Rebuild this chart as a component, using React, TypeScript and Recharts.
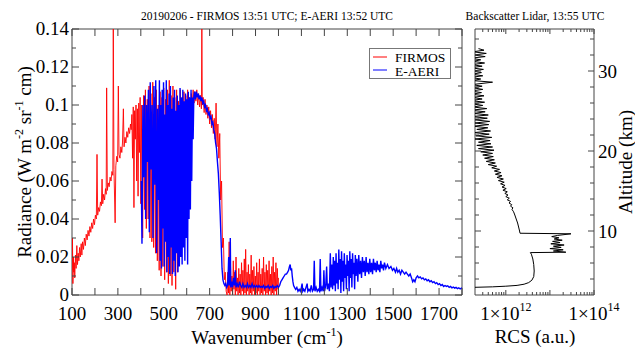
import React from "react";
import { LineChart, Line, XAxis, YAxis, ReferenceArea, ScatterChart, Scatter } from "recharts";

// FIRMOS spectrum, [wavenumber cm-1, radiance]
const firmosFar: [number, number][] = [
  [100, 0.013], [102, 0.03], [104, 0.006], [106, 0.02], [108, 0.012], [110, 0.017], [112, 0.009],
  [115, 0.021], [118, 0.014], [121, 0.026], [124, 0.016], [127, 0.022], [130, 0.018], [133, 0.025],
  [136, 0.02], [140, 0.027], [143, 0.021], [146, 0.028], [150, 0.024], [154, 0.03], [158, 0.026],
  [162, 0.032], [166, 0.029], [170, 0.034], [174, 0.031], [178, 0.036], [182, 0.033], [186, 0.038],
  [190, 0.035], [194, 0.04], [198, 0.037], [202, 0.042], [206, 0.04], [209, 0.074], [212, 0.042],
  [216, 0.046], [220, 0.044], [224, 0.049], [228, 0.047], [231, 0.061], [234, 0.048], [238, 0.053],
  [242, 0.05], [246, 0.056], [249, 0.053], [251, 0.109], [254, 0.055], [258, 0.059], [262, 0.057],
  [266, 0.062], [270, 0.06], [274, 0.065], [278, 0.063], [280, 0.14], [283, 0.066], [288, 0.038],
  [291, 0.068], [295, 0.073], [299, 0.07], [302, 0.11], [305, 0.074], [309, 0.072], [313, 0.078],
  [317, 0.075], [320, 0.08], [324, 0.098], [327, 0.078], [331, 0.083], [335, 0.08], [339, 0.086],
  [343, 0.083], [347, 0.088], [351, 0.085], [355, 0.09], [358, 0.087],
];
const firmosBand: [number, number][] = [
  [361, 0.095], [364, 0.072], [367, 0.099], [370, 0.046], [373, 0.097], [376, 0.082], [379, 0.1],
  [382, 0.06], [385, 0.098], [388, 0.052], [391, 0.101], [394, 0.075], [397, 0.104], [400, 0.048],
  [404, 0.1], [408, 0.03], [412, 0.105], [416, 0.045], [420, 0.108], [424, 0.035], [428, 0.103],
  [432, 0.04], [436, 0.11], [440, 0.03], [444, 0.106], [448, 0.028], [452, 0.112], [456, 0.025],
  [460, 0.104], [464, 0.022], [468, 0.108], [472, 0.018], [476, 0.1], [480, 0.013], [484, 0.107],
  [488, 0.01], [492, 0.104], [496, 0.015], [500, 0.109], [504, 0.008], [508, 0.103], [512, 0.012],
  [516, 0.108], [520, 0.006], [524, 0.113], [528, 0.01], [532, 0.105], [536, 0.005], [540, 0.11],
  [544, 0.012], [548, 0.104], [552, 0.003], [556, 0.108], [560, 0.012], [564, 0.102], [568, 0.018],
  [572, 0.108], [576, 0.02], [580, 0.104], [584, 0.03], [588, 0.107], [592, 0.04], [596, 0.105],
  [600, 0.05], [604, 0.108], [608, 0.06], [612, 0.104], [616, 0.075], [620, 0.106],
];
const firmosPeak: [number, number][] = [
  [624, 0.1], [628, 0.108], [632, 0.101], [636, 0.107], [640, 0.102], [644, 0.108], [648, 0.1],
  [652, 0.106], [656, 0.099], [660, 0.105], [664, 0.098], [666, 0.14], [668, 0.1], [672, 0.104],
  [676, 0.096], [680, 0.103], [684, 0.095], [688, 0.1], [692, 0.093], [696, 0.099], [700, 0.09],
  [704, 0.097], [708, 0.088], [712, 0.095], [716, 0.085], [720, 0.093], [724, 0.082], [728, 0.101],
  [732, 0.078], [736, 0.09], [740, 0.072], [744, 0.085], [748, 0.05], [752, 0.06], [756, 0.025],
  [760, 0.03], [764, 0.008], [768, 0.012], [772, 0.002],
];
const firmosWindow: [number, number][] = [
  [776, 0.0], [779, 0.012], [782, 0.001], [785, 0.028], [788, 0.0], [791, 0.015], [794, 0.002],
  [797, 0.01], [800, 0.0], [803, 0.018], [806, 0.003], [809, 0.012], [812, 0.0], [815, 0.02],
  [818, 0.002], [821, 0.009], [824, 0.0], [827, 0.014], [830, 0.001], [833, 0.011], [836, 0.0],
  [839, 0.017], [842, 0.002], [845, 0.013], [848, 0.0], [851, 0.019], [854, 0.001], [857, 0.024],
  [860, 0.0], [863, 0.012], [866, 0.002], [869, 0.016], [872, 0.0], [875, 0.011], [878, 0.001],
  [881, 0.021], [884, 0.0], [887, 0.013], [890, 0.002], [893, 0.015], [896, 0.0], [899, 0.01],
  [902, 0.001], [905, 0.017], [908, 0.0], [911, 0.012], [914, 0.002], [917, 0.019], [920, 0.0],
  [923, 0.011], [926, 0.001], [929, 0.014], [932, 0.0], [935, 0.02], [938, 0.002], [941, 0.012],
  [944, 0.0], [947, 0.016], [950, 0.001], [953, 0.013], [956, 0.0], [959, 0.018], [962, 0.002],
  [965, 0.011], [968, 0.0], [971, 0.015], [974, 0.001], [977, 0.02], [980, 0.0], [983, 0.012],
  [986, 0.002], [989, 0.017], [992, 0.0], [995, 0.014], [998, 0.003], [1000, 0.009],
];

// E-AERI spectrum, [wavenumber cm-1, radiance]
const aeriBand: [number, number][] = [
  [402, 0.06], [405, 0.027], [409, 0.1], [413, 0.062], [417, 0.105], [421, 0.04], [425, 0.1],
  [429, 0.07], [433, 0.108], [437, 0.033], [441, 0.112], [445, 0.066], [449, 0.1], [453, 0.03],
  [457, 0.11], [461, 0.058], [465, 0.113], [469, 0.022], [473, 0.098], [477, 0.05], [481, 0.113],
  [484, 0.018], [487, 0.1], [490, 0.014], [493, 0.108], [496, 0.035], [499, 0.112], [502, 0.015],
  [505, 0.095], [508, 0.028], [511, 0.113], [514, 0.012], [517, 0.1], [520, 0.02], [523, 0.106],
  [526, 0.011], [529, 0.11], [532, 0.025], [535, 0.098], [538, 0.011], [541, 0.104], [544, 0.018],
  [547, 0.108], [550, 0.01], [553, 0.097], [556, 0.022], [559, 0.105], [562, 0.012], [565, 0.1],
  [568, 0.015], [571, 0.109], [574, 0.02], [577, 0.104], [580, 0.016], [583, 0.108], [586, 0.025],
  [589, 0.102], [592, 0.018], [595, 0.106], [598, 0.03], [601, 0.103], [604, 0.016], [607, 0.107],
  [610, 0.04], [613, 0.104], [616, 0.045], [619, 0.108], [622, 0.06], [625, 0.104], [628, 0.082],
];
const aeriPeak: [number, number][] = [
  [631, 0.104], [634, 0.107], [638, 0.103], [642, 0.107], [646, 0.104], [650, 0.106], [654, 0.103],
  [658, 0.105], [662, 0.102], [666, 0.104], [670, 0.101], [674, 0.102], [678, 0.099], [682, 0.1],
  [686, 0.097], [690, 0.098], [694, 0.095], [698, 0.096], [702, 0.093], [706, 0.094], [710, 0.09],
  [714, 0.091], [718, 0.087], [722, 0.085], [726, 0.08], [730, 0.077], [734, 0.07], [738, 0.064],
  [742, 0.054], [746, 0.042], [750, 0.028], [754, 0.014], [758, 0.008], [762, 0.006], [766, 0.005],
  [770, 0.006], [774, 0.004],
];
const aeriWindow: [number, number][] = [
  [778, 0.005], [781, 0.012], [783, 0.02], [785, 0.005], [788, 0.008], [790, 0.03], [792, 0.004],
  [796, 0.007], [800, 0.004], [804, 0.009], [808, 0.005], [812, 0.013], [815, 0.004], [820, 0.006],
  [825, 0.004], [830, 0.007], [835, 0.005], [840, 0.004], [845, 0.006], [850, 0.004], [855, 0.005],
  [860, 0.004], [865, 0.006], [870, 0.004], [875, 0.005], [880, 0.004], [885, 0.006], [890, 0.004],
  [895, 0.005], [900, 0.004], [905, 0.005], [910, 0.004], [915, 0.005], [920, 0.004], [925, 0.0045],
  [930, 0.004], [935, 0.005], [940, 0.0035], [945, 0.0045], [950, 0.004], [955, 0.005], [960, 0.0035],
  [965, 0.0045], [970, 0.004], [975, 0.005], [980, 0.0035], [985, 0.0045], [990, 0.004], [995, 0.005],
  [1000, 0.004],
];
const aeriOzone: [number, number][] = [
  [1005, 0.005], [1010, 0.007], [1015, 0.008], [1020, 0.009], [1025, 0.01], [1030, 0.011], [1035, 0.011],
  [1040, 0.012], [1044, 0.013], [1048, 0.015], [1051, 0.016], [1054, 0.013], [1057, 0.014], [1060, 0.01],
  [1063, 0.007], [1066, 0.005], [1070, 0.004], [1075, 0.003], [1080, 0.004], [1085, 0.002], [1090, 0.003],
  [1095, 0.002], [1100, 0.004], [1103, 0.006], [1106, 0.002], [1110, 0.003], [1115, 0.002], [1120, 0.004],
  [1125, 0.006], [1128, 0.002], [1133, 0.003], [1138, 0.002], [1143, 0.005], [1148, 0.002], [1153, 0.003],
  [1156, 0.018], [1159, 0.002], [1164, 0.004], [1169, 0.002], [1174, 0.003], [1179, 0.002], [1182, 0.019],
  [1185, 0.002], [1190, 0.004], [1195, 0.002], [1198, 0.013], [1201, 0.002], [1206, 0.005], [1210, 0.015],
  [1213, 0.003], [1218, 0.006], [1222, 0.002], [1226, 0.022], [1229, 0.004],
];
const aeriBand2: [number, number][] = [
  [1233, 0.016], [1236, 0.003], [1239, 0.02], [1242, 0.005], [1245, 0.018], [1248, 0.002], [1251, 0.022],
  [1254, 0.006], [1257, 0.017], [1260, 0.003], [1263, 0.024], [1266, 0.008], [1269, 0.019], [1272, 0.001],
  [1275, 0.023], [1278, 0.007], [1281, 0.018], [1284, 0.002], [1287, 0.022], [1290, 0.009], [1293, 0.016],
  [1296, 0.003], [1299, 0.021], [1302, 0.01], [1305, 0.018], [1308, 0.002], [1311, 0.023], [1314, 0.009],
  [1317, 0.019], [1320, 0.004], [1323, 0.022], [1326, 0.011], [1329, 0.017], [1332, 0.003], [1335, 0.021],
  [1338, 0.01], [1342, 0.019], [1346, 0.007], [1350, 0.021], [1354, 0.011], [1358, 0.018], [1362, 0.009],
  [1366, 0.02], [1370, 0.012], [1374, 0.018], [1378, 0.01], [1382, 0.02], [1386, 0.012], [1390, 0.017],
  [1394, 0.011], [1398, 0.019], [1402, 0.012], [1406, 0.017], [1410, 0.011], [1414, 0.019], [1418, 0.013],
  [1422, 0.017], [1426, 0.012], [1430, 0.018], [1434, 0.013], [1438, 0.016], [1442, 0.012], [1446, 0.018],
  [1450, 0.014], [1454, 0.016], [1458, 0.013], [1462, 0.017],
];
const aeriTail: [number, number][] = [
  [1468, 0.014], [1475, 0.016], [1482, 0.014], [1490, 0.015], [1497, 0.013], [1503, 0.014], [1510, 0.012],
  [1515, 0.014], [1520, 0.012], [1526, 0.013], [1532, 0.011], [1538, 0.013], [1544, 0.012], [1550, 0.011],
  [1556, 0.012], [1562, 0.011], [1568, 0.01], [1574, 0.011], [1580, 0.009], [1585, 0.007], [1590, 0.008],
  [1595, 0.007], [1600, 0.009], [1606, 0.01], [1612, 0.009], [1618, 0.0095], [1624, 0.0085], [1630, 0.009],
  [1636, 0.008], [1642, 0.0085], [1648, 0.0075], [1654, 0.008], [1660, 0.007], [1666, 0.0075], [1672, 0.0065],
  [1678, 0.007], [1684, 0.006], [1690, 0.0065], [1696, 0.0055], [1702, 0.006], [1708, 0.005], [1714, 0.0055],
  [1720, 0.0045], [1726, 0.005], [1732, 0.0045], [1738, 0.0048], [1744, 0.004], [1750, 0.0045], [1756, 0.0038],
  [1762, 0.0042], [1768, 0.0036], [1774, 0.004], [1780, 0.0034], [1786, 0.0038], [1792, 0.0032], [1798, 0.0036],
  [1800, 0.0034],
];

// lidar profile, [range corrected signal, altitude km]
const lidarLow: [number, number][] = [
  [1.7e11, 2.95], [5e11, 3.02], [1.0e12, 3.1], [1.8e12, 3.2], [2.6e12, 3.35], [3.3e12, 3.55], [3.9e12, 3.85],
  [4.3e12, 4.3], [4.4e12, 5.0], [4.3e12, 5.8], [4.1e12, 6.5], [3.8e12, 7.1], [3.6e12, 7.3],
];
const lidarCloud: [number, number][] = [
  [2.3e13, 7.35], [1.2e13, 7.5], [2.0e13, 7.65], [1.0e13, 7.8], [1.8e13, 7.95], [1.2e13, 8.1], [2.1e13, 8.25],
  [1.05e13, 8.4], [1.7e13, 8.55], [1.15e13, 8.7], [1.9e13, 8.85], [1.25e13, 9.0], [1.6e13, 9.15], [1.1e13, 9.3],
  [1.5e13, 9.45], [3.0e13, 9.65], [2.1e12, 9.72],
];
const lidarHigh: [number, number][] = [
  [2.05e12, 10.0], [1.95e12, 10.5], [1.85e12, 11.0], [1.72e12, 11.5], [1.6e12, 12.0], [1.5e12, 12.4],
  [1.38e12, 12.7], [1.45e12, 12.9], [1.28e12, 13.1], [1.36e12, 13.3], [1.18e12, 13.5], [1.28e12, 13.7],
  [1.08e12, 13.9], [1.2e12, 14.1], [1.0e12, 14.3], [1.12e12, 14.5], [9.5e11, 14.7], [1.08e12, 14.9],
  [8.6e11, 15.1], [1.02e12, 15.3], [8.2e11, 15.5], [9.6e11, 15.7], [7.6e11, 15.9], [9.2e11, 16.1],
  [6.8e11, 16.3], [8.8e11, 16.5], [6.3e11, 16.7], [8.2e11, 16.9], [5.8e11, 17.1], [7.8e11, 17.3],
  [5.5e11, 17.5], [7.2e11, 17.7], [4.8e11, 17.9], [6.2e11, 18.1], [4.0e11, 18.3], [5.8e11, 18.5],
  [3.6e11, 18.7], [5.5e11, 18.9], [3.3e11, 19.1], [5.2e11, 19.3], [3.0e11, 19.5], [5.0e11, 19.7],
  [2.7e11, 19.9], [5.4e11, 20.1], [2.4e11, 20.3], [5.0e11, 20.5], [2.2e11, 20.7], [4.6e11, 20.9],
  [2.4e11, 21.1], [4.4e11, 21.3], [2.0e11, 21.5], [4.8e11, 21.7], [2.1e11, 21.9], [4.2e11, 22.1],
  [1.9e11, 22.3], [4.5e11, 22.5], [2.2e11, 22.7], [3.9e11, 22.9], [1.8e11, 23.1], [4.1e11, 23.3],
  [2.0e11, 23.5], [4.3e11, 23.7], [1.9e11, 23.9], [3.8e11, 24.1], [1.7e11, 24.3], [4.0e11, 24.5],
  [1.9e11, 24.7], [3.4e11, 24.9], [1.6e11, 25.1], [3.7e11, 25.3], [1.8e11, 25.5], [3.0e11, 25.7],
  [1.7e11, 25.9], [3.3e11, 26.1], [1.6e11, 26.3], [2.9e11, 26.5], [1.8e11, 26.7], [3.2e11, 26.9],
  [1.7e11, 27.1], [2.8e11, 27.3], [1.6e11, 27.5], [3.0e11, 27.7], [1.8e11, 27.9], [2.9e11, 28.1],
  [1.7e11, 28.3], [5.0e11, 28.6], [1.8e11, 28.8], [2.7e11, 29.0], [1.6e11, 29.2], [3.0e11, 29.4],
  [1.7e11, 29.6], [2.8e11, 29.8], [1.8e11, 30.0], [3.1e11, 30.2], [1.6e11, 30.4], [2.9e11, 30.6],
  [1.7e11, 30.8], [3.3e11, 31.0], [1.8e11, 31.2], [2.7e11, 31.4], [1.6e11, 31.6], [3.4e11, 31.8],
  [1.9e11, 32.0], [3.6e11, 32.2], [1.8e11, 32.4], [3.2e11, 32.6], [2.4e11, 32.8],
];

const wnTicks = [100, 200, 300, 400, 500, 600, 700, 800, 900, 1000, 1100, 1200, 1300, 1400, 1500, 1600, 1700, 1800];
const wnLabels = [100, 300, 500, 700, 900, 1100, 1300, 1500, 1700];
const radTicks = [0, 0.01, 0.02, 0.03, 0.04, 0.05, 0.06, 0.07, 0.08, 0.09, 0.1, 0.11, 0.12, 0.13, 0.14];
const radLabels = [0, 0.02, 0.04, 0.06, 0.08, 0.1, 0.12, 0.14];
const rcsTicks = [
  3e11, 4e11, 5e11, 6e11, 7e11, 8e11, 9e11, 1e12, 2e12, 3e12, 4e12, 5e12, 6e12, 7e12, 8e12, 9e12,
  1e13, 2e13, 3e13, 4e13, 5e13, 6e13, 7e13, 8e13, 9e13, 1e14,
];
const rcsMajor = [1e12, 1e13, 1e14];
const rcsLabels = [1e12, 1e14];
const altTicks = [4, 6, 8, 10, 12, 14, 16, 18, 20, 22, 24, 26, 28, 30, 32, 34];
const altLabels = [10, 20, 30];

const toSpec = (rows: [number, number][]) => rows.map(([wn, rad]) => ({ wn, rad }));
const firmos = toSpec([...firmosFar, ...firmosBand, ...firmosPeak, ...firmosWindow]);
const aeri = toSpec([...aeriBand, ...aeriPeak, ...aeriWindow, ...aeriOzone, ...aeriBand2, ...aeriTail]);
const lidar = [...lidarLow, ...lidarCloud, ...lidarHigh].map(([rcs, alt]) => ({ rcs, alt }));

const FONT = "'Liberation Serif', 'DejaVu Serif', serif";
const FRAME = "#444";
const MAIN_W = 390;
const MAIN_H = 266;
const LID_W = 119;
const LID_H = 266;

function WnTick({ x, y, payload }: any) {
  const v = payload.value;
  return (
    <g>
      <line x1={x} x2={x} y1={y} y2={y - 7} stroke={FRAME} />
      <line x1={x} x2={x} y1={y - MAIN_H} y2={y - MAIN_H + 7} stroke={FRAME} />
      {wnLabels.includes(v) && (
        <text x={x} y={y + 25} textAnchor="middle" fontSize={19} fontFamily={FONT} fill="#000">
          {v}
        </text>
      )}
    </g>
  );
}

function RadTick({ x, y, payload }: any) {
  const v = payload.value;
  const major = radLabels.includes(v);
  const len = major ? 7 : 4;
  return (
    <g>
      <line x1={x} x2={x + len} y1={y} y2={y} stroke={FRAME} />
      <line x1={x + MAIN_W} x2={x + MAIN_W - len} y1={y} y2={y} stroke={FRAME} />
      {major && (
        <text x={x - 3} y={y} dy="0.33em" textAnchor="end" fontSize={19} fontFamily={FONT} fill="#000">
          {String(v)}
        </text>
      )}
    </g>
  );
}

function RcsTick({ x, y, payload }: any) {
  const v = payload.value;
  const len = rcsMajor.includes(v) ? 5 : 3;
  return (
    <g>
      <line x1={x} x2={x} y1={y} y2={y - len} stroke={FRAME} />
      <line x1={x} x2={x} y1={y - LID_H} y2={y - LID_H + len} stroke={FRAME} />
      {rcsLabels.includes(v) && (
        <text x={x} y={y + 25} textAnchor="middle" fontSize={19} fontFamily={FONT} fill="#000">
          1×10<tspan dy={-9} fontSize={12}>{Math.round(Math.log10(v))}</tspan>
        </text>
      )}
    </g>
  );
}

function AltTick({ x, y, payload }: any) {
  const v = payload.value;
  const major = altLabels.includes(v);
  const len = major ? 6 : 4;
  return (
    <g>
      <line x1={x} x2={x - len} y1={y} y2={y} stroke={FRAME} />
      <line x1={x - LID_W} x2={x - LID_W + len} y1={y} y2={y} stroke={FRAME} />
      {major && (
        <text x={x + 4} y={y} dy="0.35em" textAnchor="start" fontSize={19} fontFamily={FONT} fill="#000">
          {v}
        </text>
      )}
    </g>
  );
}

const NoDot = () => null;

export default function App() {
  return (
    <div style={{ position: "absolute", left: 0, top: 0, width: 635, height: 349, fontFamily: FONT, background: "#fff" }}>
      <div style={{ position: "absolute", left: 0, top: 0 }}>
        <LineChart width={470} height={349} margin={{ top: 29, right: 8, bottom: 24, left: 0 }}>
          <XAxis
            dataKey="wn"
            type="number"
            domain={[100, 1800]}
            ticks={wnTicks}
            interval={0}
            tick={WnTick}
            tickLine={false}
            axisLine={false}
            tickSize={0}
            tickMargin={0}
            height={30}
            allowDataOverflow
          />
          <YAxis
            type="number"
            domain={[0, 0.14]}
            ticks={radTicks}
            interval={0}
            tick={RadTick}
            tickLine={false}
            axisLine={false}
            tickSize={0}
            tickMargin={0}
            width={72}
            allowDataOverflow
          />
          <Line data={firmos} dataKey="rad" stroke="#ff0000" strokeWidth={0.9} dot={false} isAnimationActive={false} />
          <Line data={aeri} dataKey="rad" stroke="#0000ff" strokeWidth={1.4} dot={false} isAnimationActive={false} />
          <ReferenceArea x1={100} x2={1800} y1={0} y2={0.14} fill="none" stroke={FRAME} strokeWidth={1} ifOverflow="visible" />
        </LineChart>
      </div>

      <div style={{ position: "absolute", left: 470, top: 0 }}>
        <ScatterChart width={165} height={349} margin={{ top: 29, right: 0, bottom: 24, left: 5 }}>
          <XAxis
            dataKey="rcs"
            type="number"
            scale="log"
            domain={[2e11, 1e14]}
            ticks={rcsTicks}
            interval={0}
            tick={RcsTick}
            tickLine={false}
            axisLine={false}
            tickSize={0}
            tickMargin={0}
            height={30}
            allowDataOverflow
          />
          <YAxis
            dataKey="alt"
            type="number"
            orientation="right"
            domain={[2, 35.25]}
            ticks={altTicks}
            interval={0}
            tick={AltTick}
            tickLine={false}
            axisLine={false}
            tickSize={0}
            tickMargin={0}
            width={41}
            allowDataOverflow
          />
          <Scatter
            data={lidar}
            line={{ stroke: "#000", strokeWidth: 1 }}
            lineType="joint"
            shape={NoDot}
            isAnimationActive={false}
          />
          <ReferenceArea x1={2e11} x2={1e14} y1={2} y2={35.25} fill="none" stroke={FRAME} strokeWidth={1} ifOverflow="visible" />
        </ScatterChart>
      </div>

      {/* legend */}
      <svg width={82} height={31} style={{ position: "absolute", left: 369, top: 48 }}>
        <rect x={0.5} y={0.5} width={81} height={30} fill="#fff" stroke="#777" />
        <line x1={4} x2={18} y1={9} y2={9} stroke="#ff0000" />
        <text x={26} y={13.5} fontSize={13.5} fontFamily={FONT}>FIRMOS</text>
        <line x1={4} x2={18} y1={22} y2={22} stroke="#0000ff" />
        <text x={26} y={27.5} fontSize={13.5} fontFamily={FONT}>E-AERI</text>
      </svg>

      {/* titles and axis labels */}
      <svg width={635} height={349} style={{ position: "absolute", left: 0, top: 0, pointerEvents: "none" }}>
        <g fontFamily={FONT} fill="#000">
          <text x={267} y={20} textAnchor="middle" fontSize={11.5}>
            20190206 - FIRMOS 13:51 UTC; E-AERI 13:52 UTC
          </text>
          <text x={535} y={20} textAnchor="middle" fontSize={11.5}>
            Backscatter Lidar, 13:55 UTC
          </text>
          <text x={267} y={344} textAnchor="middle" fontSize={19}>
            Wavenumber (cm<tspan dy={-8} fontSize={12}>-1</tspan>
            <tspan dy={8}>)</tspan>
          </text>
          <text x={535} y={343} textAnchor="middle" fontSize={19}>
            RCS (a.u.)
          </text>
          <text transform="translate(31,162) rotate(-90)" textAnchor="middle" fontSize={19}>
            Radiance (W m<tspan dy={-8} fontSize={12}>-2</tspan>
            <tspan dy={8}> sr</tspan>
            <tspan dy={-8} fontSize={12}>-1</tspan>
            <tspan dy={8}> cm)</tspan>
          </text>
          <text transform="translate(632,162) rotate(-90)" textAnchor="middle" fontSize={19}>
            Altitude (km)
          </text>
        </g>
      </svg>
    </div>
  );
}
